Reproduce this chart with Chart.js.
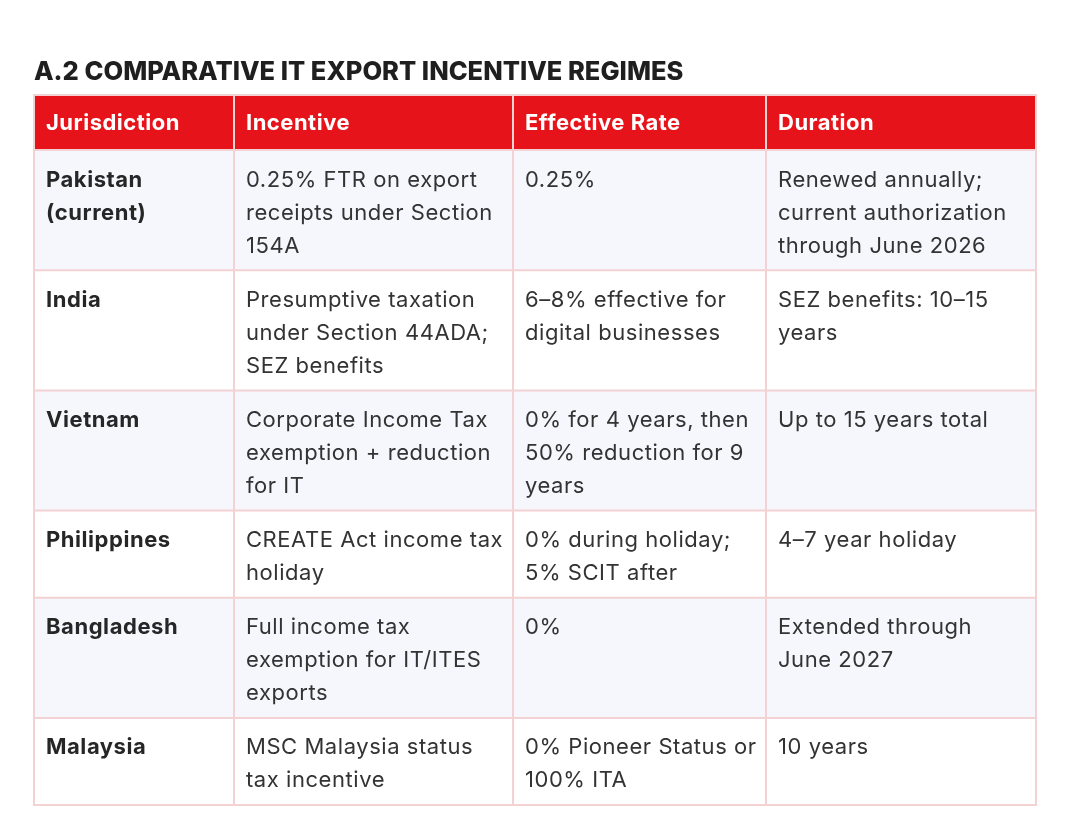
<!DOCTYPE html>
<html>
<head>
<meta charset="utf-8">
<script src="https://cdn.jsdelivr.net/npm/chart.js@4.4.1/dist/chart.umd.min.js"></script>
<style>
  html, body { margin: 0; padding: 0; background: #ffffff; }
  #wrap { position: absolute; left: 0; top: 0; width: 1080px; height: 839px; }
</style>
</head>
<body>
<div id="wrap"><canvas id="tabela"></canvas></div>
<script>
// Dados da tabela (linhas quebradas como na imagem)
const titulo = "A.2 COMPARATIVE IT EXPORT INCENTIVE REGIMES";
const cabecalhos = ["Jurisdiction", "Incentive", "Effective Rate", "Duration"];
const jurisdicoes = [
  ["Pakistan", "(current)"],
  ["India"],
  ["Vietnam"],
  ["Philippines"],
  ["Bangladesh"],
  ["Malaysia"],
];
const incentivos = [
  ["0.25% FTR on export", "receipts under Section", "154A"],
  ["Presumptive taxation", "under Section 44ADA;", "SEZ benefits"],
  ["Corporate Income Tax", "exemption + reduction", "for IT"],
  ["CREATE Act income tax", "holiday"],
  ["Full income tax", "exemption for IT/ITES", "exports"],
  ["MSC Malaysia status", "tax incentive"],
];
const taxas = [
  ["0.25%"],
  ["6\u20138% effective for", "digital businesses"],
  ["0% for 4 years, then", "50% reduction for 9", "years"],
  ["0% during holiday;", "5% SCIT after"],
  ["0%"],
  ["0% Pioneer Status or", "100% ITA"],
];
const duracoes = [
  ["Renewed annually;", "current authorization", "through June 2026"],
  ["SEZ benefits: 10\u201315", "years"],
  ["Up to 15 years total"],
  ["4\u20137 year holiday"],
  ["Extended through", "June 2027"],
  ["10 years"],
];

// Layout (larguras das colunas e alturas das linhas em unidades da escala)
const largurasColunas = [200, 279, 253, 270];
const alturaLinhaTexto = 33;
const folgaLinha = 21;
const alturaCabecalho = 55;

const colunas = [jurisdicoes, incentivos, taxas, duracoes];
const bordasX = [0];
largurasColunas.forEach(function (w, i) { bordasX.push(bordasX[i] + w); });
const bordasY = [0, alturaCabecalho];
jurisdicoes.forEach(function (_, r) {
  let maxLinhas = 1;
  colunas.forEach(function (col) { maxLinhas = Math.max(maxLinhas, col[r].length); });
  bordasY.push(bordasY[bordasY.length - 1] + folgaLinha + maxLinhas * alturaLinhaTexto);
});

const fonte = "Inter, 'Open Sans', sans-serif";

const pluginTabela = {
  id: "tabela",
  afterDraw: function (chart) {
    const ctx = chart.ctx;
    const xs = chart.scales.x;
    const ys = chart.scales.y;
    const px = function (v) { return xs.getPixelForValue(v); };
    const py = function (v) { return ys.getPixelForValue(v); };
    ctx.save();

    // fundos
    for (let r = 0; r < bordasY.length - 1; r++) {
      const y0 = py(bordasY[r]), y1 = py(bordasY[r + 1]);
      if (r === 0) ctx.fillStyle = "#e6141a";
      else ctx.fillStyle = (r % 2 === 1) ? "#f5f7fd" : "#ffffff";
      ctx.fillRect(px(bordasX[0]), y0, px(bordasX[bordasX.length - 1]) - px(bordasX[0]), y1 - y0);
    }

    // linhas da grade
    ctx.strokeStyle = "#f3d2d4";
    ctx.lineWidth = 2;
    ctx.beginPath();
    bordasY.forEach(function (v) {
      ctx.moveTo(px(bordasX[0]) - 1, py(v));
      ctx.lineTo(px(bordasX[bordasX.length - 1]) + 1, py(v));
    });
    bordasX.forEach(function (v) {
      ctx.moveTo(px(v), py(bordasY[0]));
      ctx.lineTo(px(v), py(bordasY[bordasY.length - 1]));
    });
    ctx.stroke();

    // textos
    ctx.textBaseline = "middle";
    ctx.textAlign = "left";
    ctx.letterSpacing = "0.5px";
    cabecalhos.forEach(function (h, c) {
      ctx.fillStyle = "#ffffff";
      ctx.font = "700 22px " + fonte;
      ctx.fillText(h, px(bordasX[c]) + 12, (py(bordasY[0]) + py(bordasY[1])) / 2 + 1);
    });
    jurisdicoes.forEach(function (_, r) {
      const topo = py(bordasY[r + 1]);
      colunas.forEach(function (col, c) {
        ctx.font = (c === 0 ? "700 " : "400 ") + "22px " + fonte;
        ctx.letterSpacing = c === 0 ? "0.55px" : "0.55px";
        ctx.fillStyle = c === 0 ? "#262626" : "#333333";
        col[r].forEach(function (linha, i) {
          ctx.fillText(linha, px(bordasX[c]) + 12, topo + 30 + i * alturaLinhaTexto);
        });
      });
    });
    ctx.restore();
  },
};

new Chart(document.getElementById("tabela").getContext("2d"), {
  type: "scatter",
  data: { datasets: [] },
  options: {
    responsive: true,
    maintainAspectRatio: false,
    animation: false,
    layout: { padding: { left: 34, right: 44, top: 58, bottom: 34 } },
    scales: {
      x: { type: "linear", display: false, min: 0, max: bordasX[bordasX.length - 1] },
      y: { type: "linear", display: false, reverse: true, min: 0, max: bordasY[bordasY.length - 1] },
    },
    plugins: {
      legend: { display: false },
      tooltip: { enabled: false },
      title: {
        display: true,
        text: titulo,
        align: "start",
        color: "#1f1f1f",
        font: { family: fonte, size: 25.5, weight: "800", lineHeight: 1.15 },
        padding: { top: 0, bottom: 7.7 },
      },
    },
  },
  plugins: [pluginTabela],
});
</script>
</body>
</html>
